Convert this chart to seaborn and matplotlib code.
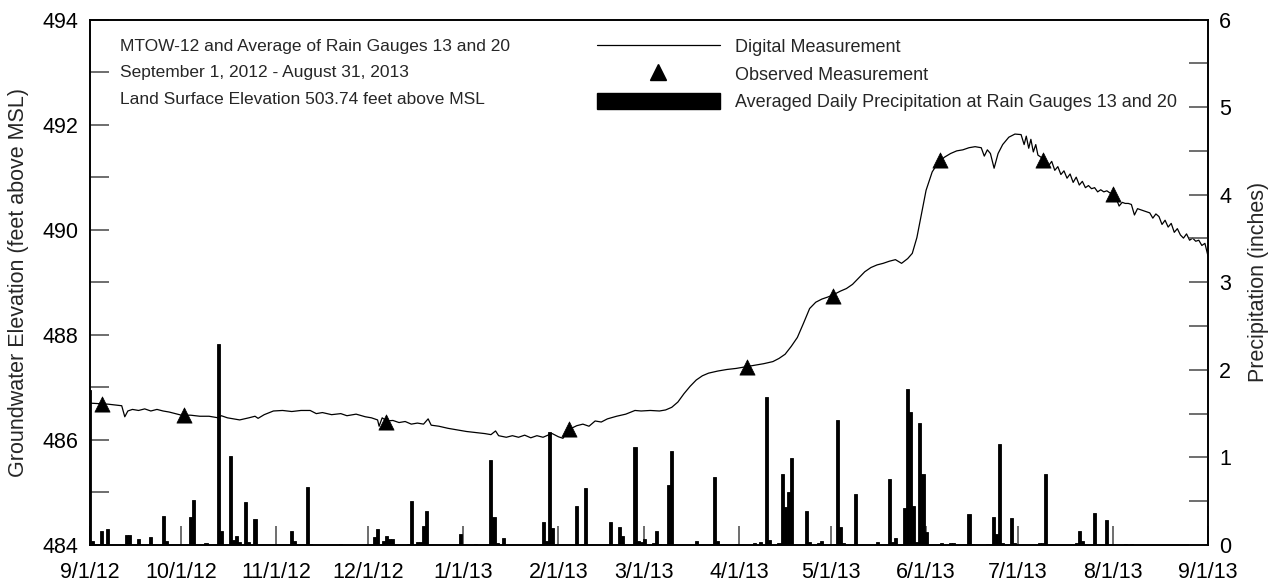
import matplotlib
matplotlib.use("Agg")
import matplotlib.pyplot as plt
import seaborn as sns
import pandas as pd
from matplotlib.lines import Line2D
from matplotlib.patches import Patch
from matplotlib.ticker import MultipleLocator

# ---------------------------------------------------------------------------
# Data (days counted from 9/1/2012)
# ---------------------------------------------------------------------------
START = pd.Timestamp("2012-09-01")
END = pd.Timestamp("2013-09-01")

tick_labels = ["9/1/12", "10/1/12", "11/1/12", "12/1/12", "1/1/13", "2/1/13",
               "3/1/13", "4/1/13", "5/1/13", "6/1/13", "7/1/13", "8/1/13", "9/1/13"]

# Digital (transducer) groundwater elevation, feet above MSL
digital_day = [
    0, 3, 6, 9, 10.5, 11.5, 12.5, 14, 16, 18, 20, 22, 24, 26, 28, 30, 33, 36, 39,
    42, 43, 45, 47, 49, 52, 54, 55, 57, 60, 63, 66, 69, 72, 74, 76, 79, 82, 84,
    87, 90, 92, 94, 94.5, 95.5, 97, 99, 101, 103, 105, 107, 109, 110.5, 111.5,
    114, 117, 120, 123, 126, 129, 131, 132.5, 133.5, 136, 138, 140, 142, 144,
    146, 148, 150, 151, 153, 154.5, 156.5, 159, 161, 163, 165, 167, 169, 172,
    175, 178, 180, 183, 186, 188, 190, 192, 194, 196, 198, 200, 202, 205, 208,
    211, 214, 217, 220, 223, 225, 227, 229, 231, 233, 235, 237, 239, 241, 243,
    245, 247, 249, 251, 253, 255, 257, 259, 261, 263, 265, 267, 268.5, 270,
    271.5, 273, 275, 277, 279, 281, 283, 285, 287, 289, 291, 292, 293, 294,
    295.2, 296.5, 298, 300, 302, 304, 305, 305.7, 306.5, 307.2, 308, 308.8,
    309.5, 310.5, 311.5, 312.5, 313, 314, 315, 316, 317, 318, 319, 320, 321,
    322, 323, 324, 325, 326, 327, 328, 329, 330, 331, 332, 333, 334, 335, 336,
    337, 338, 339, 340, 341, 342, 343, 344, 345, 346, 347, 348, 349, 350, 351,
    352, 353, 354, 355, 356, 357, 358, 359, 360, 361, 362, 363, 364, 365,
]
digital_elev = [
    486.70, 486.69, 486.68, 486.66, 486.65, 486.44, 486.55, 486.58, 486.56,
    486.59, 486.55, 486.58, 486.55, 486.53, 486.50, 486.47, 486.47, 486.45,
    486.45, 486.42, 486.46, 486.42, 486.40, 486.38, 486.42, 486.45, 486.41,
    486.48, 486.55, 486.56, 486.54, 486.56, 486.56, 486.50, 486.52, 486.48,
    486.50, 486.46, 486.49, 486.44, 486.42, 486.38, 486.26, 486.42, 486.36,
    486.37, 486.33, 486.35, 486.30, 486.32, 486.30, 486.40, 486.28, 486.26,
    486.22, 486.19, 486.16, 486.14, 486.12, 486.10, 486.17, 486.08, 486.05,
    486.08, 486.05, 486.09, 486.04, 486.08, 486.05, 486.10, 486.12, 486.06,
    486.03, 486.20, 486.27, 486.30, 486.26, 486.36, 486.34, 486.40, 486.45,
    486.49, 486.56, 486.55, 486.56, 486.55, 486.57, 486.62, 486.72, 486.88,
    487.02, 487.14, 487.22, 487.27, 487.31, 487.34, 487.36, 487.39, 487.42,
    487.45, 487.49, 487.55, 487.63, 487.78, 487.95, 488.22, 488.50, 488.62,
    488.68, 488.72, 488.77, 488.83, 488.88, 488.96, 489.08, 489.20, 489.28,
    489.33, 489.36, 489.40, 489.43, 489.36, 489.45, 489.55, 489.85, 490.30,
    490.75, 491.10, 491.28, 491.38, 491.45, 491.50, 491.52, 491.56, 491.58,
    491.56, 491.40, 491.52, 491.45, 491.17, 491.45, 491.62, 491.76, 491.82,
    491.81, 491.62, 491.78, 491.55, 491.72, 491.48, 491.62, 491.42, 491.38,
    491.33, 491.28, 491.22, 491.30, 491.13, 491.20, 491.05, 491.12, 490.98,
    491.06, 490.90, 491.00, 490.85, 490.92, 490.80, 490.84, 490.78, 490.80,
    490.72, 490.76, 490.72, 490.74, 490.70, 490.68, 490.60, 490.45, 490.52,
    490.50, 490.50, 490.48, 490.28, 490.40, 490.38, 490.36, 490.34, 490.32,
    490.22, 490.30, 490.25, 490.10, 490.18, 490.05, 490.12, 489.95, 490.02,
    489.90, 489.84, 489.92, 489.80, 489.84, 489.78, 489.80, 489.70, 489.74,
    489.50,
]

# Manual (observed) water-level measurements
observed_day = [4, 30.8, 96.8, 156.6, 214.5, 242.6, 277.4, 311.3, 334.1]
observed_elev = [486.68, 486.47, 486.34, 486.21, 487.39, 488.74, 491.32, 491.32, 490.67]

# Averaged daily precipitation at rain gauges 13 and 20, inches
rain_day = [
    0, 1, 4, 6, 12, 13, 16, 20, 24, 25, 33, 34, 38, 42, 43, 46, 47, 48, 49, 51,
    52, 54, 66, 67, 71, 72, 82, 93, 94, 96, 97, 98, 99, 104, 105, 107, 108, 109,
    110, 121, 126, 131, 132, 133, 135, 148, 149, 150, 151, 159, 161, 162, 170,
    173, 174, 178, 179, 180, 181, 184, 185, 186, 189, 190, 192, 198, 203, 204,
    205, 211, 217, 219, 221, 222, 225, 226, 227, 228, 229, 234, 235, 238, 239,
    243, 244, 245, 246, 250, 251, 257, 261, 262, 263, 266, 267, 268, 269, 270,
    271, 272, 273, 278, 281, 282, 287, 288, 293, 295, 296, 297, 298, 301, 302,
    310, 311, 312, 322, 323, 324, 328, 332, 338, 340,
]
rain_in = [
    1.77, 0.05, 0.16, 0.18, 0.11, 0.11, 0.065, 0.09, 0.33, 0.04, 0.32, 0.51,
    0.02, 2.30, 0.16, 1.02, 0.06, 0.10, 0.03, 0.49, 0.03, 0.30, 0.16, 0.04,
    0.66, 0.01, 0.01, 0.09, 0.18, 0.05, 0.10, 0.07, 0.065, 0.01, 0.50, 0.03,
    0.03, 0.22, 0.39, 0.13, 0.01, 0.97, 0.32, 0.02, 0.08, 0.26, 0.04, 1.29,
    0.19, 0.45, 0.01, 0.65, 0.26, 0.20, 0.10, 1.12, 0.05, 0.03, 0.065, 0.02,
    0.16, 0.01, 0.68, 1.07, 0.005, 0.04, 0.01, 0.78, 0.05, 0.01, 0.02, 0.035,
    1.69, 0.06, 0.02, 0.81, 0.43, 0.60, 0.99, 0.39, 0.03, 0.02, 0.05, 0.01,
    1.43, 0.20, 0.02, 0.58, 0.005, 0.03, 0.75, 0.03, 0.08, 0.42, 1.78, 1.52,
    0.45, 0.03, 1.39, 0.81, 0.15, 0.02, 0.02, 0.02, 0.35, 0.01, 0.01, 0.32,
    0.13, 1.15, 0.02, 0.31, 0.02, 0.02, 0.02, 0.81, 0.02, 0.16, 0.04, 0.37,
    0.29, 0.01, 0.01,
]

title_lines = [
    "MTOW-12 and Average of Rain Gauges 13 and 20",
    "September 1, 2012 - August 31, 2013",
    "Land Surface Elevation 503.74 feet above MSL",
]
legend_labels = [
    "Digital Measurement",
    "Observed Measurement",
    "Averaged Daily Precipitation at Rain Gauges 13 and 20",
]

# ---------------------------------------------------------------------------
# Figure
# ---------------------------------------------------------------------------
sns.set_theme(style="white")
plt.rcParams["font.family"] = ["Liberation Sans", "DejaVu Sans"]

fig = plt.figure(figsize=(12.81, 5.84), dpi=100)
ax = fig.add_axes([0.0699, 0.0668, 0.8731, 0.8998])
ax2 = ax.twinx()

sns.lineplot(x=digital_day, y=digital_elev, ax=ax, color="black",
             linewidth=0.9, zorder=3)
sns.scatterplot(x=observed_day, y=observed_elev, ax=ax, marker="^", s=120,
                color="black", edgecolor="black", linewidth=0.5, zorder=4)
sns.barplot(x=rain_day, y=rain_in, ax=ax2, native_scale=True, color="black",
            saturation=1, errorbar=None, width=1.0, edgecolor="black",
            linewidth=0.6)

# x axis: months
tick_days = [(d - START).days for d in pd.date_range(START, END, freq="MS")]
ax.set_xlim(0, (END - START).days)
ax.set_xticks(tick_days)
ax.set_xticklabels(tick_labels)

# left axis: groundwater elevation
ax.set_ylim(484, 494)
ax.yaxis.set_major_locator(MultipleLocator(2))
ax.yaxis.set_minor_locator(MultipleLocator(1))
ax.set_ylabel("Groundwater Elevation (feet above MSL)", fontsize=15.5,
              labelpad=10)
ax.set_xlabel("")

# right axis: precipitation
ax2.set_ylim(0, 6)
ax2.yaxis.set_major_locator(MultipleLocator(1))
ax2.yaxis.set_minor_locator(MultipleLocator(0.5))
ax2.set_ylabel("Precipitation (inches)", fontsize=15.5, labelpad=12)
ax2.set_xlabel("")

tick_kw = dict(direction="in", length=14, width=1.2, color="#555555",
               labelsize=15.5, labelcolor="black", pad=8)
ax.tick_params(axis="both", which="both", **tick_kw)
ax2.tick_params(axis="y", which="both", **tick_kw)
ax.tick_params(axis="y", which="both", left=True, right=False)
ax.tick_params(axis="x", which="both", bottom=True, top=False, pad=12)
ax2.tick_params(axis="y", which="both", left=False, right=True)

for a in (ax, ax2):
    for s in a.spines.values():
        s.set_color("black")
        s.set_linewidth(1.2)

# header text block
for i, line in enumerate(title_lines):
    fig.text(0.0937, 0.921 - i * 0.0455, line, fontsize=12.5, va="center",
             ha="left")

# legend
handles = [
    Line2D([], [], color="black", linewidth=0.9),
    Line2D([], [], color="black", marker="^", linestyle="none", markersize=11),
    Patch(facecolor="black", edgecolor="black"),
]
fig.legend(handles, legend_labels, loc="upper left",
           bbox_to_anchor=(0.466, 0.935), frameon=False, fontsize=13,
           handlelength=6.8, handleheight=1.0, handletextpad=0.83,
           labelspacing=0.5, borderpad=0, borderaxespad=0)

fig.savefig("out.png", dpi=100)
